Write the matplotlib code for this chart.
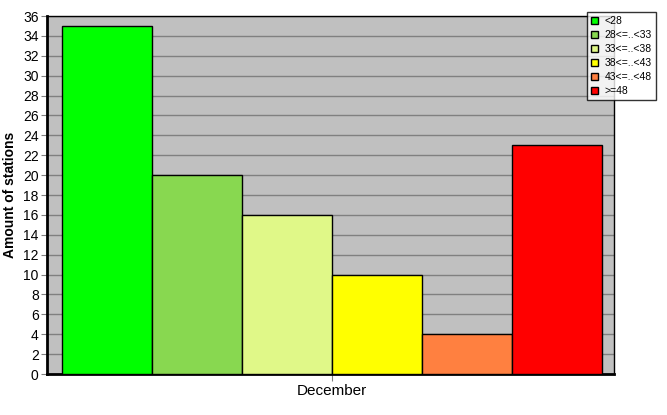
import matplotlib.pyplot as plt
import numpy as np
from matplotlib.patches import Patch

plt.rcParams['font.family'] = ['Liberation Sans', 'DejaVu Sans']

# Data
classes = ['<28', '28<=..<33', '33<=..<38', '38<=..<43', '43<=..<48', '>=48']
counts = [35, 20, 16, 10, 4, 23]
colors = ['#00FF00', '#88D850', '#E0F888', '#FFFF00', '#FF8040', '#FF0000']
month = 'December'

fig = plt.figure(figsize=(6.67, 4.15), dpi=100)
ax = fig.add_axes([47/667, 1-374/415, (614-47)/667, (374-16)/415])
ax.set_facecolor('#C0C0C0')

x = np.arange(len(counts))
ax.bar(x, counts, width=1.0, color=colors, edgecolor='black', linewidth=1, zorder=3)

ax.set_xlim(-0.5-15/90, 5.5+12/90)
ax.set_ylim(0, 36)
ax.set_yticks(np.arange(0, 37, 2))
ax.yaxis.grid(True, color='#808080', linewidth=1, zorder=0)
ax.set_xticks([2.5])
ax.set_xticklabels([month], fontsize=11)
ax.tick_params(axis='x', length=5, color='#808080', pad=2)
ax.tick_params(axis='y', length=4, color='#808080', labelsize=10, pad=2)
ax.set_ylabel('Amount of stations', fontsize=10, fontweight='bold', labelpad=4)

for s in ['left', 'bottom']:
    ax.spines[s].set_linewidth(2)
ax.spines['top'].set_linewidth(1)
ax.spines['right'].set_linewidth(1)

handles = [Patch(facecolor=c, edgecolor='black', label=l) for c, l in zip(colors, classes)]
leg = fig.legend(handles=handles, loc='upper left', bbox_to_anchor=(587/667, 1-12/415),
                 fontsize=7.5, frameon=True, fancybox=False, edgecolor='black',
                 handlelength=0.7, handleheight=0.7, handletextpad=0.6,
                 labelspacing=0.38, borderpad=0.4, borderaxespad=0)
leg.get_frame().set_linewidth(1)

fig.savefig('out.png', dpi=100, facecolor='white')
